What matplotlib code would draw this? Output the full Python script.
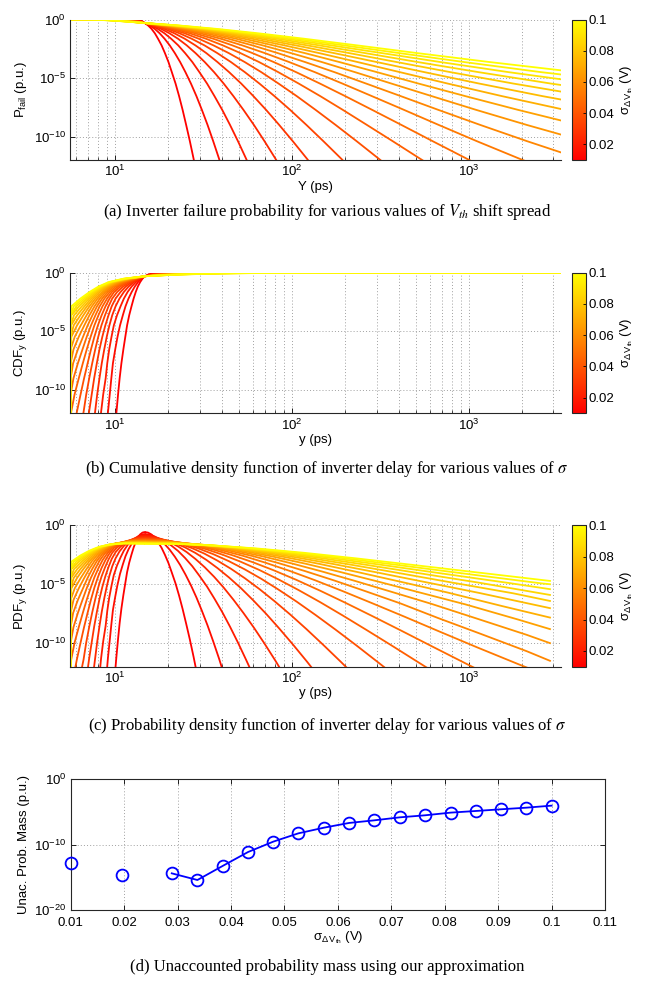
import numpy as np
import matplotlib
matplotlib.use("Agg")
import matplotlib.pyplot as plt
from matplotlib import ticker
from matplotlib.colors import Normalize
from matplotlib.cm import ScalarMappable

# ---------------- data ----------------
SIGMA = [0.0100, 0.0147, 0.0195, 0.0242, 0.0289, 0.0337, 0.0384, 0.0432, 0.0479, 0.0526,
         0.0574, 0.0621, 0.0668, 0.0716, 0.0763, 0.0811, 0.0858, 0.0905, 0.0953, 0.1000]

DELAY_MIN_PS = 5.6      # smallest delay (left edge of curves)
DELAY_MAX_PS = 3300.0   # largest delay sample
PDF_MAX_PS = 2870.0     # last PDF sample
LEFT_FLOOR_LOGX = 0.748  # log10(DELAY_MIN_PS)

# log10 probability levels along the tails (shared by all curves)
TAIL_LOGP = [-0.301, -0.511, -0.799, -1.175, -1.643, -2.207, -2.870, -3.633,
             -4.499, -5.469, -6.543, -7.721, -9.006, -10.396, -11.893, -13.50]
# log10 of (1 - tail) for the first levels
HEAD_LOGP = [-0.301, -0.160, -0.075, -0.030, -0.010, -0.003, -0.001]
FULL_LOGP = 0.0

# log10(delay) at which each curve reaches the tail levels, slow side
FAIL_LOGX = [
    [1.167, 1.186, 1.205, 1.224, 1.242, 1.262, 1.281, 1.301, 1.320, 1.341, 1.361, 1.381, 1.401, 1.422, 1.443, 1.464],
    [1.167, 1.195, 1.223, 1.251, 1.279, 1.308, 1.337, 1.367, 1.397, 1.428, 1.459, 1.490, 1.522, 1.554, 1.587, 1.620],
    [1.167, 1.204, 1.240, 1.278, 1.316, 1.356, 1.395, 1.436, 1.476, 1.519, 1.561, 1.605, 1.649, 1.694, 1.740, 1.788],
    [1.167, 1.213, 1.259, 1.306, 1.355, 1.404, 1.454, 1.506, 1.559, 1.613, 1.668, 1.725, 1.784, 1.844, 1.906, 1.969],
    [1.167, 1.222, 1.277, 1.334, 1.393, 1.453, 1.515, 1.578, 1.644, 1.712, 1.781, 1.853, 1.927, 2.004, 2.084, 2.166],
    [1.167, 1.230, 1.296, 1.363, 1.432, 1.504, 1.577, 1.654, 1.733, 1.815, 1.900, 1.989, 2.081, 2.177, 2.278, 2.383],
    [1.167, 1.239, 1.314, 1.392, 1.472, 1.555, 1.642, 1.732, 1.826, 1.923, 2.026, 2.133, 2.246, 2.365, 2.490, 2.623],
    [1.167, 1.249, 1.333, 1.421, 1.513, 1.608, 1.708, 1.813, 1.922, 2.037, 2.159, 2.287, 2.423, 2.569, 2.724, 2.892],
    [1.167, 1.258, 1.352, 1.451, 1.554, 1.662, 1.776, 1.896, 2.023, 2.157, 2.300, 2.453, 2.618, 2.795, 2.988, 3.198],
    [1.167, 1.267, 1.372, 1.481, 1.596, 1.718, 1.846, 1.983, 2.129, 2.284, 2.451, 2.633, 2.829, 3.045, 3.286, 3.554],
    [1.167, 1.276, 1.391, 1.512, 1.639, 1.775, 1.919, 2.073, 2.240, 2.418, 2.614, 2.827, 3.064, 3.329, 3.628],
    [1.167, 1.286, 1.410, 1.543, 1.683, 1.833, 1.994, 2.168, 2.356, 2.561, 2.789, 3.041, 3.327, 3.653],
    [1.167, 1.295, 1.430, 1.574, 1.728, 1.893, 2.072, 2.267, 2.480, 2.714, 2.979, 3.278, 3.622],
    [1.167, 1.304, 1.450, 1.606, 1.773, 1.955, 2.153, 2.370, 2.610, 2.879, 3.186, 3.543],
    [1.167, 1.313, 1.470, 1.638, 1.820, 2.019, 2.237, 2.478, 2.749, 3.057, 3.415, 3.841],
    [1.167, 1.323, 1.490, 1.671, 1.868, 2.084, 2.323, 2.591, 2.896, 3.250, 3.672],
    [1.167, 1.332, 1.510, 1.704, 1.917, 2.151, 2.413, 2.710, 3.055, 3.462, 3.961],
    [1.167, 1.342, 1.531, 1.738, 1.966, 2.221, 2.508, 2.838, 3.225, 3.696],
    [1.167, 1.351, 1.552, 1.772, 2.017, 2.292, 2.606, 2.972, 3.409, 3.958],
    [1.167, 1.361, 1.572, 1.807, 2.069, 2.366, 2.708, 3.116, 3.610],
]

# log10(delay) at which each curve reaches the tail levels, fast side
LEFT_LOGX = [
    [1.167, 1.154, 1.141, 1.128, 1.116, 1.104, 1.092, 1.079, 1.067, 1.057, 1.046, 1.035, 1.025, 1.016, 1.007, 0.998],
    [1.167, 1.148, 1.129, 1.111, 1.093, 1.075, 1.058, 1.043, 1.027, 1.013, 1.000, 0.987, 0.978, 0.969, 0.959, 0.950],
    [1.167, 1.142, 1.117, 1.093, 1.070, 1.049, 1.030, 1.010, 0.992, 0.979, 0.966, 0.955, 0.946, 0.932, 0.920, 0.910],
    [1.167, 1.136, 1.105, 1.076, 1.049, 1.024, 1.002, 0.983, 0.967, 0.952, 0.938, 0.924, 0.911, 0.898, 0.886, 0.873],
    [1.167, 1.130, 1.094, 1.060, 1.030, 1.002, 0.980, 0.962, 0.944, 0.927, 0.911, 0.896, 0.881, 0.867, 0.852, 0.838],
    [1.167, 1.124, 1.083, 1.045, 1.011, 0.983, 0.962, 0.942, 0.922, 0.904, 0.887, 0.870, 0.853, 0.836, 0.821, 0.800],
    [1.167, 1.118, 1.071, 1.030, 0.994, 0.968, 0.945, 0.923, 0.902, 0.882, 0.863, 0.844, 0.824, 0.804, 0.783, 0.763],
    [1.167, 1.112, 1.061, 1.016, 0.981, 0.954, 0.928, 0.905, 0.882, 0.861, 0.839, 0.817, 0.794, 0.770, 0.751],
    [1.167, 1.106, 1.050, 1.003, 0.969, 0.939, 0.912, 0.888, 0.863, 0.839, 0.815, 0.789, 0.764],
    [1.167, 1.100, 1.040, 0.991, 0.957, 0.926, 0.897, 0.871, 0.844, 0.818, 0.789, 0.762],
    [1.167, 1.095, 1.031, 0.981, 0.945, 0.913, 0.883, 0.854, 0.825, 0.794, 0.764],
    [1.167, 1.091, 1.021, 0.972, 0.934, 0.900, 0.868, 0.838, 0.805, 0.771],
    [1.167, 1.083, 1.012, 0.963, 0.926, 0.888, 0.854, 0.820, 0.784, 0.752],
    [1.167, 1.078, 1.004, 0.954, 0.913, 0.876, 0.840, 0.803, 0.765],
    [1.167, 1.072, 0.995, 0.946, 0.902, 0.864, 0.826, 0.785, 0.750],
    [1.167, 1.066, 0.987, 0.937, 0.893, 0.852, 0.811, 0.767],
    [1.167, 1.061, 0.981, 0.929, 0.884, 0.840, 0.795, 0.752],
    [1.167, 1.056, 0.975, 0.921, 0.874, 0.828, 0.780],
    [1.167, 1.051, 0.969, 0.913, 0.864, 0.816, 0.765],
    [1.167, 1.046, 0.963, 0.906, 0.855, 0.803, 0.752],
]

# log10 PDF values, slow side (paired with FAIL_LOGX)
PDF_R_LOGP = [
    [-0.571, -0.622, -0.781, -1.049, -1.426, -1.911, -2.505, -3.208, -4.018, -4.938, -5.966, -7.103, -8.348, -9.702, -11.165, -12.736],
    [-0.739, -0.789, -0.947, -1.213, -1.588, -2.072, -2.665, -3.365, -4.175, -5.094, -6.121, -7.256, -8.500, -9.853, -11.315, -12.885],
    [-0.860, -0.908, -1.065, -1.330, -1.703, -2.186, -2.777, -3.477, -4.285, -5.203, -6.228, -7.363, -8.606, -9.959, -11.419, -12.989],
    [-0.955, -1.001, -1.156, -1.420, -1.792, -2.273, -2.863, -3.562, -4.369, -5.285, -6.311, -7.445, -8.688, -10.039, -11.500, -13.069],
    [-1.032, -1.077, -1.231, -1.493, -1.864, -2.344, -2.933, -3.630, -4.437, -5.353, -6.377, -7.511, -8.753, -10.105, -11.566, -13.136],
    [-1.098, -1.141, -1.293, -1.554, -1.924, -2.403, -2.991, -3.688, -4.494, -5.409, -6.433, -7.567, -8.809, -10.161, -11.623, -13.194],
    [-1.155, -1.197, -1.348, -1.607, -1.976, -2.454, -3.041, -3.737, -4.543, -5.457, -6.482, -7.616, -8.859, -10.212, -11.675, -13.248],
    [-1.206, -1.246, -1.395, -1.653, -2.021, -2.498, -3.084, -3.780, -4.585, -5.500, -6.525, -7.660, -8.904, -10.260, -11.725, -13.301],
    [-1.251, -1.290, -1.437, -1.695, -2.061, -2.537, -3.123, -3.818, -4.624, -5.539, -6.565, -7.701, -8.948, -10.306, -11.775, -13.357],
    [-1.292, -1.329, -1.476, -1.731, -2.097, -2.572, -3.158, -3.853, -4.659, -5.575, -6.602, -7.740, -8.990, -10.352, -11.828, -13.417],
    [-1.330, -1.365, -1.510, -1.765, -2.130, -2.604, -3.190, -3.885, -4.692, -5.609, -6.638, -7.880, -9.200, -10.700],
    [-1.364, -1.398, -1.542, -1.795, -2.159, -2.634, -3.219, -3.915, -4.722, -5.641, -6.673, -7.900, -9.300],
    [-1.396, -1.429, -1.571, -1.824, -2.187, -2.661, -3.246, -3.943, -4.752, -5.673, -6.709, -8.000],
    [-1.426, -1.457, -1.598, -1.849, -2.212, -2.686, -3.271, -3.969, -4.780, -5.705, -6.850],
    [-1.453, -1.483, -1.623, -1.874, -2.236, -2.710, -3.296, -3.995, -4.808, -5.738],
    [-1.480, -1.508, -1.646, -1.896, -2.258, -2.732, -3.319, -4.020, -4.837, -5.772],
    [-1.504, -1.531, -1.668, -1.917, -2.279, -2.753, -3.341, -4.045, -4.866],
    [-1.528, -1.553, -1.689, -1.937, -2.299, -2.774, -3.363, -4.070, -4.896],
    [-1.550, -1.573, -1.709, -1.956, -2.317, -2.793, -3.385, -4.095, -4.928],
    [-1.571, -1.593, -1.727, -1.974, -2.335, -2.812, -3.406, -4.121],
]
# log10 PDF at the last sample (PDF_MAX_PS) for curves 10..19
PDF_END_LOGP = [-11.5, -10.0, -8.81, -7.83, -7.03, -6.42, -5.91, -5.42, -5.00, -4.72]

# log10 PDF values, fast side (paired with LEFT_LOGX)
PDF_L_LOGP = [
    [-0.569, -0.616, -0.771, -1.036, -1.408, -1.889, -2.479, -3.177, -3.984, -4.899, -5.923, -7.055, -8.296, -9.646, -11.104, -12.671],
    [-0.737, -0.781, -0.933, -1.193, -1.563, -2.040, -2.626, -3.321, -4.124, -5.036, -6.057, -7.186, -8.423, -9.769, -11.224, -12.787],
    [-0.859, -0.899, -1.047, -1.304, -1.670, -2.144, -2.727, -3.418, -4.218, -5.126, -6.143, -7.268, -8.502, -9.845, -11.296, -12.856],
    [-0.953, -0.990, -1.135, -1.388, -1.750, -2.221, -2.800, -3.488, -4.284, -5.189, -6.203, -7.325, -8.555, -9.894, -11.342, -12.898],
    [-1.031, -1.064, -1.205, -1.455, -1.814, -2.281, -2.857, -3.541, -4.334, -5.235, -6.245, -7.364, -8.591, -9.927, -11.371, -12.923],
    [-1.096, -1.126, -1.264, -1.511, -1.866, -2.330, -2.902, -3.583, -4.372, -5.270, -6.276, -7.391, -8.615, -9.947, -11.388, -12.937],
    [-1.154, -1.180, -1.314, -1.557, -1.909, -2.369, -2.938, -3.615, -4.401, -5.296, -6.299, -7.410, -8.630, -9.959, -11.396, -12.942],
    [-1.204, -1.227, -1.358, -1.597, -1.946, -2.402, -2.968, -3.642, -4.424, -5.315, -6.314, -7.423, -8.639, -9.964, -11.398, -12.940],
    [-1.249, -1.268, -1.396, -1.632, -1.977, -2.430, -2.992, -3.662, -4.441, -5.329, -6.325, -7.429, -8.642, -9.964, -11.394, -12.933],
    [-1.290, -1.306, -1.430, -1.663, -2.004, -2.454, -3.012, -3.679, -4.454, -5.338, -6.331, -7.432, -8.642, -9.960, -11.387, -12.922],
    [-1.328, -1.340, -1.461, -1.690, -2.027, -2.474, -3.029, -3.692, -4.464, -5.345, -6.334, -7.431, -8.637, -9.952, -11.375, -12.907],
    [-1.362, -1.371, -1.488, -1.714, -2.048, -2.491, -3.042, -3.702, -4.471, -5.348, -6.333, -7.427, -8.630, -9.941, -11.361, -12.889],
    [-1.394, -1.399, -1.513, -1.735, -2.066, -2.505, -3.053, -3.710, -4.475, -5.348, -6.330, -7.421, -8.620, -9.928, -11.344, -12.869],
    [-1.424, -1.426, -1.536, -1.755, -2.082, -2.518, -3.062, -3.715, -4.477, -5.347, -6.325, -7.412, -8.608, -9.912, -11.325, -12.847],
    [-1.452, -1.450, -1.557, -1.772, -2.096, -2.528, -3.069, -3.719, -4.477, -5.343, -6.318, -7.402, -8.594, -9.895, -11.304, -12.822],
    [-1.478, -1.473, -1.576, -1.788, -2.108, -2.537, -3.074, -3.720, -4.475, -5.338, -6.310, -7.390, -8.579, -9.876, -11.282, -12.796],
    [-1.502, -1.494, -1.593, -1.802, -2.119, -2.544, -3.078, -3.721, -4.472, -5.331, -6.299, -7.376, -8.561, -9.855, -11.258, -12.769],
    [-1.526, -1.514, -1.610, -1.815, -2.128, -2.550, -3.081, -3.720, -4.467, -5.323, -6.288, -7.361, -8.543, -9.833, -11.232, -12.740],
    [-1.548, -1.532, -1.625, -1.826, -2.136, -2.555, -3.082, -3.717, -4.461, -5.314, -6.275, -7.345, -8.523, -9.810, -11.206, -12.710],
    [-1.569, -1.550, -1.639, -1.837, -2.143, -2.558, -3.082, -3.714, -4.455, -5.304, -6.262, -7.328, -8.503, -9.786, -11.178, -12.678],
]

# panel (d): unaccounted probability mass (log10), None = not available
UNACC_LOGP = [-12.76, None, -14.59, None, -14.39, -15.41, -13.27, -11.12, -9.54, -8.27,
              -7.40, -6.68, -6.28, -5.82, -5.51, -5.10, -4.85, -4.59, -4.34, -4.03]

CAPTIONS = [
    r"(a) Inverter failure probability for various values of $V_{th}$ shift spread",
    r"(b) Cumulative density function of inverter delay for various values of $\sigma$",
    r"(c) Probability density function of inverter delay for various values of $\sigma$",
    r"(d) Unaccounted probability mass using our approximation",
]
SIG_LABEL = r"$\mathregular{\sigma_{\Delta\,V_{th}}}$ (V)"

# ---------------- style ----------------
plt.rcParams["font.family"] = ["Liberation Sans", "DejaVu Sans"]
plt.rcParams["mathtext.fontset"] = "custom"
plt.rcParams["mathtext.rm"] = "Liberation Sans"
plt.rcParams["mathtext.it"] = "Liberation Sans:italic"
plt.rcParams["mathtext.bf"] = "Liberation Sans:bold"
plt.rcParams["mathtext.sf"] = "Liberation Sans"
plt.rcParams["xtick.direction"] = "in"
plt.rcParams["ytick.direction"] = "in"
plt.rcParams["axes.linewidth"] = 0.8
plt.rcParams["axes.edgecolor"] = "#262626"

TICK_FS = 9.5
LABEL_FS = 9.5
GRID_KW = dict(color="#a0a0a0", linestyle=(0, (1, 2.2)), linewidth=0.7)

cmap = plt.get_cmap("autumn")
norm = Normalize(vmin=min(SIGMA), vmax=max(SIGMA))

fig = plt.figure(figsize=(6.45, 9.9), dpi=100)
W, H = 645.0, 990.0


def fig_rect(left, top, right, bottom):
    return [left / W, 1 - bottom / H, (right - left) / W, (bottom - top) / H]


def pad_left(xs):
    return list(xs) + [LEFT_FLOOR_LOGX] * (len(TAIL_LOGP) - len(xs))


def style_delay_axes(ax, xlabel, ylabel):
    ax.set_xscale("log")
    ax.set_yscale("log")
    ax.set_xlim(5.55, DELAY_MAX_PS)
    ax.set_ylim(1e-12, 1.0)
    ax.yaxis.set_major_locator(ticker.FixedLocator([1e-10, 1e-5, 1e0]))
    ax.yaxis.set_minor_locator(ticker.NullLocator())
    ax.xaxis.set_major_locator(ticker.LogLocator(base=10))
    ax.xaxis.set_minor_locator(ticker.LogLocator(base=10, subs=np.arange(2, 10)))
    ax.xaxis.set_minor_formatter(ticker.NullFormatter())
    ax.set_axisbelow(True)
    ax.grid(True, which="major", axis="y", **GRID_KW)
    ax.grid(True, which="both", axis="x", **GRID_KW)
    for s in ("top", "right"):
        ax.spines[s].set_visible(False)
    ax.tick_params(which="major", length=3.5, width=0.6, labelsize=TICK_FS, pad=3)
    ax.tick_params(which="minor", length=2.0, width=0.5)
    ax.set_xlabel(xlabel, fontsize=LABEL_FS, labelpad=1)
    ax.set_ylabel(ylabel, fontsize=LABEL_FS, labelpad=3)


def add_colorbar(rect):
    cax = fig.add_axes(rect)
    sm = ScalarMappable(norm=norm, cmap=cmap)
    cb = fig.colorbar(sm, cax=cax)
    cb.set_ticks([0.02, 0.04, 0.06, 0.08, 0.1])
    cb.set_ticklabels(["0.02", "0.04", "0.06", "0.08", "0.1"])
    cb.ax.tick_params(direction="in", length=2.5, width=0.6, labelsize=TICK_FS, pad=2)
    cb.outline.set_linewidth(0.8)
    cb.set_label(SIG_LABEL, fontsize=LABEL_FS, rotation=90, labelpad=3)
    return cb


LW = 1.3

# ---- (a) failure probability ----
axa = fig.add_axes(fig_rect(70, 19.5, 560.7, 160))
for k, s in enumerate(SIGMA):
    lx = [LEFT_FLOOR_LOGX] + LEFT_LOGX[k][:len(HEAD_LOGP)][::-1] + FAIL_LOGX[k]
    lv = [FULL_LOGP] + HEAD_LOGP[::-1] + TAIL_LOGP[:len(FAIL_LOGX[k])]
    axa.plot(10 ** np.array(lx), 10 ** np.array(lv), color=cmap(norm(s)), lw=LW,
             solid_joinstyle="round")
style_delay_axes(axa, "Y (ps)", r"$\mathregular{P_{fail}}$ (p.u.)")
add_colorbar(fig_rect(571.7, 19.5, 585.7, 160))

# ---- (b) CDF ----
axb = fig.add_axes(fig_rect(70, 272.7, 560.7, 413.3))
for k, s in enumerate(SIGMA):
    left = pad_left(LEFT_LOGX[k])
    lx = left[::-1] + FAIL_LOGX[k][:len(HEAD_LOGP)] + [np.log10(DELAY_MAX_PS)]
    lv = TAIL_LOGP[::-1] + HEAD_LOGP + [FULL_LOGP]
    axb.plot(10 ** np.array(lx), 10 ** np.array(lv), color=cmap(norm(s)), lw=LW,
             solid_joinstyle="round")
style_delay_axes(axb, "y (ps)", r"$\mathregular{CDF_y}$ (p.u.)")
add_colorbar(fig_rect(571.7, 272.7, 585.7, 413.3))

# ---- (c) PDF ----
axc = fig.add_axes(fig_rect(70, 525.3, 560.7, 666.7))
n_end = len(PDF_END_LOGP)
for k, s in enumerate(SIGMA):
    left = pad_left(LEFT_LOGX[k])
    n = len(PDF_R_LOGP[k])
    lx = left[::-1] + FAIL_LOGX[k][:n]
    lv = PDF_L_LOGP[k][::-1] + PDF_R_LOGP[k]
    if k >= len(SIGMA) - n_end:
        lx = lx + [np.log10(PDF_MAX_PS)]
        lv = lv + [PDF_END_LOGP[k - (len(SIGMA) - n_end)]]
    axc.plot(10 ** np.array(lx), 10 ** np.array(lv), color=cmap(norm(s)), lw=LW,
             solid_joinstyle="round")
style_delay_axes(axc, "y (ps)", r"$\mathregular{PDF_y}$ (p.u.)")
add_colorbar(fig_rect(571.7, 525.3, 585.7, 666.7))

# ---- (d) unaccounted mass ----
axd = fig.add_axes(fig_rect(70.8, 779.3, 605, 910))
yd = np.array([np.nan if v is None else 10 ** v for v in UNACC_LOGP])
axd.plot(SIGMA, yd, color="#0000ff", lw=1.3, marker="o", markersize=8.5,
         markerfacecolor="none", markeredgewidth=1.3, clip_on=False, zorder=5)
axd.set_yscale("log")
axd.set_xlim(0.01, 0.11)
axd.set_ylim(1e-20, 1.0)
axd.yaxis.set_major_locator(ticker.FixedLocator([1e-20, 1e-10, 1e0]))
axd.yaxis.set_minor_locator(ticker.NullLocator())
axd.xaxis.set_major_locator(ticker.MultipleLocator(0.01))
axd.xaxis.set_major_formatter(ticker.FuncFormatter(
    lambda v, p: "0.1" if abs(v - 0.1) < 1e-9 else f"{v:.2f}"))
axd.set_axisbelow(True)
axd.grid(True, which="major", **GRID_KW)
axd.tick_params(which="major", length=3.5, width=0.6, labelsize=TICK_FS, top=True, right=True)
axd.tick_params(axis="x", pad=5)
axd.tick_params(axis="y", pad=3)
axd.set_xlabel(SIG_LABEL, fontsize=LABEL_FS, labelpad=0)
axd.set_ylabel("Unac. Prob. Mass (p.u.)", fontsize=LABEL_FS, labelpad=3)

# ---- captions ----
for txt, yc in zip(CAPTIONS, [212, 469, 726, 967]):
    fig.text(327 / W, 1 - yc / H, txt, ha="center", va="center", fontsize=12,
             family=["Liberation Serif", "DejaVu Serif"], math_fontfamily="stix")

fig.savefig("out.png", dpi=100)
